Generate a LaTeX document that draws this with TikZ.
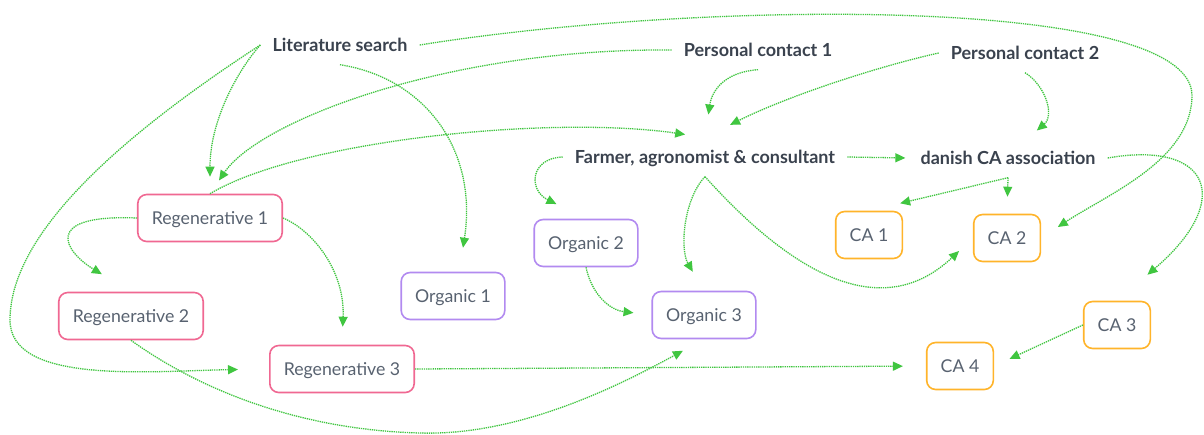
\documentclass[tikz,border=0pt]{standalone}
\usepackage{fontspec}
\setmainfont{Lato}
\usetikzlibrary{arrows.meta}
\definecolor{linkgreen}{RGB}{64,198,64}
\definecolor{ink}{RGB}{58,66,78}
\definecolor{cardink}{RGB}{88,98,112}
\definecolor{pinkc}{RGB}{240,104,146}
\definecolor{purplec}{RGB}{178,138,240}
\definecolor{orangec}{RGB}{255,180,42}
\tikzset{
  conn/.style={draw=linkgreen, line width=1.3pt, dash pattern=on 1.3pt off 0.9pt,
    -{Triangle[length=10pt,width=9pt]}},
  topic/.style={font=\bfseries\fontsize{18}{21}\selectfont, text=ink,
    inner xsep=12pt, inner ysep=13pt, text height=13pt, text depth=0pt},
  card/.style={rounded corners=9pt, line width=1.6pt, inner xsep=14pt,
    minimum height=47pt, text height=13pt, text depth=0pt,
    font=\fontsize{17.7}{21}\selectfont, text=cardink, fill=white},
  regen/.style={card, draw=pinkc},
  organic/.style={card, draw=purplec},
  cabox/.style={card, draw=orangec},
}
\begin{document}
\begin{tikzpicture}[x=1pt, y=-1pt]
\useasboundingbox[fill=white] (0,0) rectangle (1204,434);

% sources and hubs
\node[topic] (lit)    at (340,45)  {Literature search};
\node[topic] (pc1)    at (758,50)  {Personal contact 1};
\node[topic] (pc2)    at (1025,53) {Personal contact 2};
\node[topic] (farmer) at (705,157) {Farmer, agronomist \& consultant};
\node[topic] (danish) at (1008,158) {danish CA association};

% regenerative farms
\node[regen] (reg1) at (210,218) {Regenerative 1};
\node[regen] (reg2) at (131,316) {Regenerative 2};
\node[regen] (reg3) at (342,369) {Regenerative 3};

% organic farms
\node[organic] (org1) at (453,296) {Organic 1};
\node[organic] (org2) at (586,243) {Organic 2};
\node[organic] (org3) at (704,315) {Organic 3};

% conservation agriculture farms
\node[cabox] (ca1) at (869,235)  {CA 1};
\node[cabox] (ca2) at (1007,238) {CA 2};
\node[cabox] (ca3) at (1117,325) {CA 3};
\node[cabox] (ca4) at (960,366)  {CA 4};

% links from the literature search
\draw[conn, shorten >=17pt] (lit.west) .. controls (238,70) and (210,120) .. (reg1.north);
\draw[conn, shorten >=31pt] (lit.west) .. controls (130,130) and (10,230) .. (10,320)
      .. controls (10,385) and (150,371) .. (reg3.west);
\draw[conn] (lit.south) .. controls (425,78) and (478,150) .. ([xshift=10pt,yshift=24pt]org1.north);
\draw[conn, shorten >=20pt] (lit.east) .. controls (700,0) and (1190,-5) .. (1192,95)
      .. controls (1192,160) and (1108,194) .. (ca2.east);

% links from the personal contacts
\draw[conn, shorten >=16pt] (pc1.west) .. controls (450,48) and (260,120) .. (reg1.north);
\draw[conn, shorten >=23pt] (pc1.south) .. controls (725,72) and (712,90) .. (farmer.north);
\draw[conn, shorten >=28pt] (pc2.west) .. controls (880,66) and (790,95) .. (farmer.north);
\draw[conn, shorten >=12pt] (pc2.south) .. controls (1045,85) and (1055,115) .. (danish.45);

% links from the regenerative farms
\draw[conn, shorten >=20pt] (reg1.north) .. controls (300,140) and (550,115) .. (farmer.north);
\draw[conn, shorten >=34pt] (reg1.west) .. controls (40,214) and (65,252) .. (reg2.north);
\draw[conn, shorten >=18pt] (reg1.east) .. controls (312,230) and (345,270) .. (reg3.north);
\draw[conn, shorten >=24pt] (reg2.south) .. controls (200,390) and (300,430) .. (420,433)
      .. controls (520,436) and (620,385) .. (org3.south);
\draw[conn, shorten >=23pt] (reg3.east) -- (ca4.west);

% links from the organic farms
\draw[conn, shorten >=18pt] (org2.south) .. controls (592,295) and (610,310) .. (org3.west);

% links from the farmer network
\draw[conn, shorten >=33pt] (farmer.west) .. controls (530,158) and (528,190) .. (org2.north);
\draw[conn, shorten >=22pt] (farmer.south) .. controls (683,200) and (680,250) .. (org3.north);
\draw[conn, shorten >=19pt] (farmer.south) .. controls (780,260) and (875,330) .. (ca2.west);
\draw[conn, shorten >=3pt] (farmer.east) -- (danish.west);

% links from the danish CA association
\draw[conn, shorten >=32pt] (danish.south) -- (ca1.north);
\draw[conn, shorten >=17pt] (danish.south) -- (ca2.north);
\draw[conn, shorten >=40pt] (danish.east) .. controls (1210,140) and (1235,200) .. (ca3.north);

% links between CA farms
\draw[conn, shorten >=17pt] (ca3.west) -- (ca4.east);
\end{tikzpicture}
\end{document}
